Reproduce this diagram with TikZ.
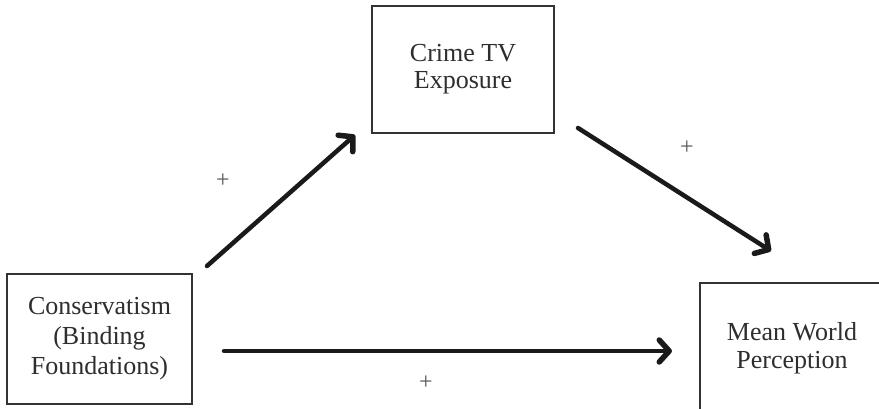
\documentclass[tikz,border=0pt]{standalone}
\usepackage{fontspec}
\setmainfont{Liberation Serif}
\usetikzlibrary{arrows.meta,calc}
\definecolor{boxcol}{HTML}{333333}
\definecolor{txtcol}{HTML}{2E2E2E}
\definecolor{arrcol}{HTML}{1A1A1A}
\definecolor{pluscol}{HTML}{555555}
\tikzset{
  varbox/.style={draw=boxcol, line width=2pt, fill=white, align=center, text=txtcol,
    inner sep=0pt},
  patharrow/.style={draw=arrcol, line width=4.5pt, line cap=round,
    -{Straight Barb[length=10pt,width=22pt,line width=1pt 1,round]}},
  plussign/.style={text=pluscol, font=\fontsize{24pt}{24pt}\selectfont, inner sep=0pt}
}
\begin{document}
\begin{tikzpicture}[x=1pt,y=-1pt]
\useasboundingbox (0,0) rectangle (879,409);
\clip (0,0) rectangle (879,409);
\fill[white] (0,0) rectangle (879,409);
\node[varbox, font=\fontsize{26pt}{27pt}\selectfont, minimum width=182pt, minimum height=127pt] (crime) at (463,69.5) {Crime TV\\Exposure};
\node[varbox, font=\fontsize{26pt}{30pt}\selectfont, minimum width=185pt, minimum height=130pt] (cons) at (99.5,339) {Conservatism\\(Binding\\Foundations)};
\node[varbox, font=\fontsize{26pt}{28pt}\selectfont, minimum width=184pt, minimum height=130pt] (mean) at (792,348) {Mean World\\Perception};
\draw[patharrow] ($(cons.north east)+(14,-7)$) -- ($(crime.south west)+(-16,1)$);
\draw[patharrow] ($(crime.south east)+(23,-6)$) -- ($(mean.north west)+(72,-31)$);
\draw[patharrow] ($(cons.east)+(31,12)$) -- ($(mean.west)+(-27,3)$);
\node[plussign] (p1) at (223,181) {+};
\node[plussign] (p2) at (687,148) {+};
\node[plussign] (p3) at (426,383) {+};
\end{tikzpicture}
\end{document}
